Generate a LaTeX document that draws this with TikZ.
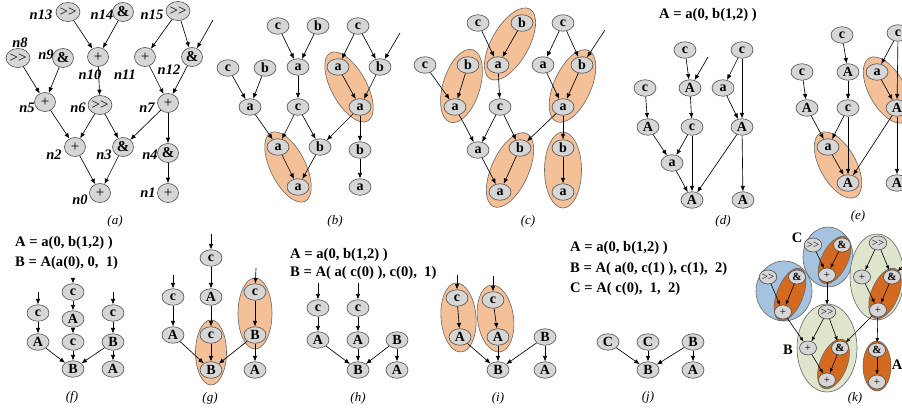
\documentclass[tikz,border=0pt]{standalone}
\usepackage{fontspec}
\setmainfont{Liberation Serif}
\usetikzlibrary{shapes.geometric,arrows.meta,calc}
\pgfdeclarelayer{bg}
\pgfsetlayers{bg,main}
\definecolor{nodegray}{RGB}{214,214,214}
\definecolor{peach}{RGB}{243,192,152}
\definecolor{rust}{RGB}{212,106,32}
\definecolor{skyblue}{RGB}{165,195,222}
\definecolor{sage}{RGB}{223,228,204}
% tilted ellipse enclosing two nodes: style, node 1, node 2, extra length, minor diameter
\newcommand\blob[5]{%
  \path let \p1=(#2), \p2=(#3),
    \n1={atan2(\y2-\y1,\x2-\x1)},
    \n2={veclen(\x2-\x1,\y2-\y1)+#4} in
    node[#1, ellipse, inner sep=0pt, minimum width=\n2, minimum height=#5, rotate=\n1]
      at ($(#2)!0.5!(#3)$) {};}
\tikzset{
  nd/.style={ellipse, draw=black!70, fill=nodegray, line width=0.6pt, inner sep=0pt,
     minimum width=22pt, minimum height=16.5pt, font=\fontsize{14}{14}\selectfont\bfseries},
  opn/.style={nd, minimum width=21pt, minimum height=19pt, font=\fontsize{15}{15}\selectfont},
  opb/.style={opn, font=\fontsize{15}{15}\selectfont\bfseries},
  sm/.style={nd, minimum width=17pt, minimum height=14pt, inner sep=0pt, font=\fontsize{11}{11}\selectfont},
  smb/.style={sm, font=\fontsize{11}{11}\selectfont\bfseries},
  ar/.style={-{Latex[length=5.5pt,width=4.5pt]}, line width=0.65pt},
  sar/.style={-{Latex[length=4.5pt,width=3.6pt]}, line width=0.6pt},
  tag/.style={font=\fontsize{14.5}{14.5}\selectfont\bfseries\itshape, inner sep=0pt},
  captxt/.style={font=\fontsize{13}{13}\selectfont\itshape, inner sep=0pt},
  eq/.style={font=\fontsize{14.6}{14.6}\selectfont\bfseries, anchor=west, inner sep=0pt},
  grp/.style={font=\fontsize{14.5}{14.5}\selectfont\bfseries, inner sep=0pt},
  pch/.style={draw=black!60, fill=peach, line width=0.6pt},
  rst/.style={draw=black!60, fill=rust, line width=0.6pt},
  blu/.style={draw=black!60, fill=skyblue, line width=0.6pt},
  sge/.style={draw=black!60, fill=sage, line width=0.6pt},
}
\begin{document}
\begin{tikzpicture}[x=1pt,y=-1pt]
\useasboundingbox (0,0) rectangle (902,411);

% ---------------- (a) operator graph ----------------
\node[opn] (a13) at (68,12)  {{>}{>}};
\node[opb] (a14) at (123,12) {\&};
\node[opn] (a15) at (178,11) {{>}{>}};
\coordinate (afree) at (213,20);
\node[opn] (a8)  at (18,58)  {{>}{>}};
\node[opb] (a9)  at (63,58)  {\&};
\node[opn] (a10) at (98,57)  {+};
\node[opn] (a11) at (145,57) {+};
\node[opb] (a12) at (192,57) {\&};
\node[opn] (a5)  at (45,102) {+};
\node[opn] (a6)  at (100,105) {{>}{>}};
\node[opn] (a7)  at (168,103) {+};
\node[opn] (a2)  at (75,147) {+};
\node[opb] (a3)  at (123,147) {\&};
\node[opb] (a4)  at (168,153) {\&};
\node[opn] (a0)  at (100,193) {+};
\node[opn] (a1)  at (168,193) {+};
\node[tag] (t13) at (41,15)  {n13};
\node[tag] (t14) at (102,15) {n14};
\node[tag] (t15) at (152,15) {n15};
\node[tag] (t8)  at (20,43)  {n8};
\node[tag] (t9)  at (46,55)  {n9};
\node[tag] (t10) at (90,75)  {n10};
\node[tag] (t11) at (125,75) {n11};
\node[tag] (t12) at (169,70) {n12};
\node[tag] (t5)  at (27,108) {n5};
\node[tag] (t6)  at (78,108) {n6};
\node[tag] (t7)  at (147,108) {n7};
\node[tag] (t2)  at (54,155) {n2};
\node[tag] (t3)  at (104,155) {n3};
\node[tag] (t4)  at (150,155) {n4};
\node[tag] (t0)  at (80,200) {n0};
\node[tag] (t1)  at (148,193) {n1};
\foreach \s/\t in {a13/a10,a14/a10,a15/a11,a15/a12,afree/a12,a8/a5,a9/a5,a10/a6,a11/a7,
  a12/a7,a5/a2,a6/a2,a6/a3,a7/a3,a7/a4,a2/a0,a3/a0,a4/a1}
  \draw[ar] (\s) -- (\t);
\node[captxt] (capa) at (115,221) {(a)};

% ---------------- (b) ----------------
\node[nd] (bc1) at (278,26) {c};
\node[nd] (bb1) at (318,26) {b};
\node[nd] (bc2) at (358,26) {c};
\coordinate (bfree) at (400,33);
\node[nd] (bc3) at (228,68) {c};
\node[nd] (bb3) at (265,68) {b};
\node[nd] (bat) at (298,67) {a};
\node[nd] (bar) at (338,67) {a};
\node[nd] (bbr) at (380,67) {b};
\node[nd] (ba1) at (250,107) {a};
\node[nd] (bc)  at (298,107) {c};
\node[nd] (ba2) at (360,107) {a};
\node[nd] (ba3) at (278,147) {a};
\node[nd] (bb4) at (320,147) {b};
\node[nd] (bb5) at (360,150) {b};
\node[nd] (ba4) at (298,187) {a};
\node[nd] (ba5) at (360,187) {a};
\foreach \s/\t in {bc1/bat,bb1/bat,bc2/bar,bc2/bbr,bfree/bbr,bc3/ba1,bb3/ba1,bat/bc,bar/ba2,
  bbr/ba2,ba1/ba3,bc/ba3,bc/bb4,ba2/bb4,ba2/bb5,ba3/ba4,bb4/ba4,bb5/ba5}
  \draw[ar] (\s) -- (\t);
\begin{pgfonlayer}{bg}
\blob{pch}{bar}{ba2}{32}{35}
\blob{pch}{ba3}{ba4}{32}{35}
\end{pgfonlayer}
\node[captxt] (capb) at (335,221) {(b)};

% ---------------- (c) ----------------
\node[nd] (cc1) at (478,23) {c};
\node[nd] (cb1) at (522,23) {b};
\node[nd] (cc2) at (563,23) {c};
\coordinate (cfree) at (605,30);
\node[nd] (cc3) at (425,65) {c};
\node[nd] (cb3) at (468,65) {b};
\node[nd] (cat) at (498,65) {a};
\node[nd] (car) at (543,65) {a};
\node[nd] (cbr) at (582,65) {b};
\node[nd] (ca1) at (455,107) {a};
\node[nd] (cc)  at (500,107) {c};
\node[nd] (ca2) at (563,107) {a};
\node[nd] (ca3) at (478,150) {a};
\node[nd] (cb4) at (520,148) {b};
\node[nd] (cb5) at (563,148) {b};
\node[nd] (ca4) at (500,192) {a};
\node[nd] (ca5) at (563,192) {a};
\foreach \s/\t in {cc1/cat,cb1/cat,cc2/car,cc2/cbr,cfree/cbr,cc3/ca1,cb3/ca1,cat/cc,car/ca2,
  cbr/ca2,ca1/ca3,cc/ca3,cc/cb4,ca2/cb4,ca2/cb5,ca3/ca4,cb4/ca4,cb5/ca5}
  \draw[ar] (\s) -- (\t);
\begin{pgfonlayer}{bg}
\blob{pch}{cb3}{ca1}{32}{37}
\blob{pch}{cb1}{cat}{32}{37}
\blob{pch}{cbr}{ca2}{32}{37}
\blob{pch}{cb4}{ca4}{32}{37}
\blob{pch}{cb5}{ca5}{32}{37}
\end{pgfonlayer}
\node[captxt] (capc) at (528,221) {(c)};

% ---------------- (d) ----------------
\node[eq] (eqd) at (659,15) {A = a(0, b(1,2) )};
\node[nd] (dc1) at (685,50) {c};
\node[nd] (dc2) at (742,50) {c};
\coordinate (dfree) at (708,57);
\node[nd] (dc3) at (645,88) {c};
\node[nd] (dA1) at (690,88) {A};
\node[nd] (da1) at (723,88) {a};
\node[nd] (dA2) at (648,127) {A};
\node[nd] (dc4) at (692,127) {c};
\node[nd] (dA3) at (742,127) {A};
\node[nd] (da2) at (672,163) {a};
\node[nd] (dA4) at (692,200) {A};
\node[nd] (dA5) at (743,200) {A};
\foreach \s/\t in {dc1/dA1,dfree/dA1,dc2/da1,dc2/dA3,dc3/dA2,dA1/dc4,da1/dA3,dA2/da2,
  dc4/da2,dc4/dA4,da2/dA4,dA3/dA4,dA3/dA5}
  \draw[ar] (\s) -- (\t);
\node[captxt] (capd) at (723,221) {(d)};

% ---------------- (e) ----------------
\node[nd] (ec1) at (842,35) {c};
\node[nd] (ec2) at (898,33) {c};
\node[nd] (ec3) at (802,72) {c};
\node[nd] (eA1) at (848,72) {A};
\node[nd] (ea1) at (877,72) {a};
\node[nd] (eA2) at (807,108) {A};
\node[nd] (ec4) at (848,108) {c};
\node[nd] (eA3) at (897,108) {A};
\node[nd] (ea2) at (828,147) {a};
\node[nd] (eA4) at (848,183) {A};
\node[nd] (eA5) at (897,183) {A};
\foreach \s/\t in {ec1/eA1,eA1/ec4,ec3/eA2,ec2/ea1,ec2/eA3,ea1/eA3,eA2/ea2,ec4/ea2,
  ec4/eA4,ea2/eA4,eA3/eA4,eA3/eA5}
  \draw[ar] (\s) -- (\t);
\begin{pgfonlayer}{bg}
\blob{pch}{ea1}{eA3}{32}{36}
\blob{pch}{ea2}{eA4}{32}{36}
\end{pgfonlayer}
\node[captxt] (cape) at (858,216) {(e)};

% ---------------- (f) ----------------
\node[eq] (eqf1) at (15,243) {A = a(0, b(1,2) )};
\node[eq] (eqf2) at (15,263) {B = A(a(0), 0,~~1)};
\coordinate (ff1) at (73,279);
\coordinate (ff2) at (38,292);
\coordinate (ff3) at (113,292);
\node[nd] (fc1) at (73,292) {c};
\node[nd] (fA1) at (73,319) {A};
\node[nd] (fc2) at (73,342) {c};
\node[nd] (fB1) at (73,369) {B};
\node[nd] (fc3) at (38,313) {c};
\node[nd] (fA2) at (38,342) {A};
\node[nd] (fc4) at (113,313) {c};
\node[nd] (fB2) at (113,342) {B};
\node[nd] (fA3) at (113,369) {A};
\foreach \s/\t in {ff1/fc1,fc1/fA1,fA1/fc2,fc2/fB1,ff2/fc3,fc3/fA2,fA2/fB1,ff3/fc4,
  fc4/fB2,fB2/fB1,fB2/fA3}
  \draw[ar] (\s) -- (\t);
\node[captxt] (capf) at (72,397) {(f)};

% ---------------- (g) ----------------
\coordinate (gf1) at (211,234);
\coordinate (gf2) at (173,275);
\coordinate (gf3) at (256,268);
\node[nd] (gc1) at (211,258) {c};
\node[nd] (gA1) at (211,297) {A};
\node[nd] (gc2) at (211,335) {c};
\node[nd] (gB1) at (211,370) {B};
\node[nd] (gc3) at (173,297) {c};
\node[nd] (gA2) at (173,335) {A};
\node[nd] (gc4) at (255,292) {c};
\node[nd] (gB2) at (255,335) {B};
\node[nd] (gA3) at (255,370) {A};
\foreach \s/\t in {gf1/gc1,gc1/gA1,gA1/gc2,gc2/gB1,gf2/gc3,gc3/gA2,gA2/gB1,gf3/gc4,
  gc4/gB2,gB2/gB1,gB2/gA3}
  \draw[ar] (\s) -- (\t);
\begin{pgfonlayer}{bg}
\blob{pch}{gc2}{gB1}{30}{31}
\blob{pch}{gc4}{gB2}{28}{34}
\end{pgfonlayer}
\node[captxt] (capg) at (210,398) {(g)};

% ---------------- (h) ----------------
\node[eq] (eqh1) at (290,255) {A = a(0, b(1,2) )};
\node[eq] (eqh2) at (290,273) {B = A( a( c(0) ), c(0),~~1)};
\coordinate (hf1) at (318,283);
\coordinate (hf2) at (358,283);
\node[nd] (hc1) at (318,308) {c};
\node[nd] (hA1) at (318,340) {A};
\node[nd] (hc2) at (358,308) {c};
\node[nd] (hA2) at (358,340) {A};
\node[nd] (hB1) at (397,340) {B};
\node[nd] (hB2) at (358,370) {B};
\node[nd] (hA3) at (397,370) {A};
\foreach \s/\t in {hf1/hc1,hc1/hA1,hf2/hc2,hc2/hA2,hA1/hB2,hA2/hB2,hB1/hB2,hB1/hA3}
  \draw[ar] (\s) -- (\t);
\node[captxt] (caph) at (358,398) {(h)};

% ---------------- (i) ----------------
\coordinate (if1) at (457,275);
\coordinate (if2) at (493,276);
\node[nd] (ic1) at (457,298) {c};
\node[nd] (iA1) at (460,337) {A};
\node[nd] (ic2) at (493,300) {c};
\node[nd] (iA2) at (498,337) {A};
\node[nd] (iB1) at (545,337) {B};
\node[nd] (iB2) at (498,370) {B};
\node[nd] (iA3) at (545,370) {A};
\foreach \s/\t in {if1/ic1,ic1/iA1,if2/ic2,ic2/iA2,iA1/iB2,iA2/iB2,iB1/iB2,iB1/iA3}
  \draw[ar] (\s) -- (\t);
\begin{pgfonlayer}{bg}
\blob{pch}{ic1}{iA1}{30}{35}
\blob{pch}{ic2}{iA2}{30}{36}
\end{pgfonlayer}
\node[captxt] (capi) at (498,398) {(i)};

% ---------------- (j) ----------------
\node[eq] (eqj1) at (570,248) {A = a(0, b(1,2) )};
\node[eq] (eqj2) at (570,269) {B = A( a(0, c(1) ), c(1),~~2)};
\node[eq] (eqj3) at (570,289) {C = A( c(0),~~1,~~2)};
\node[nd] (jC1) at (608,342) {C};
\node[nd] (jC2) at (648,342) {C};
\node[nd] (jB1) at (693,342) {B};
\node[nd] (jB2) at (648,370) {B};
\node[nd] (jA)  at (693,370) {A};
\foreach \s/\t in {jC1/jB2,jC2/jB2,jB1/jB2,jB1/jA}
  \draw[ar] (\s) -- (\t);
\node[captxt] (capj) at (648,397) {(j)};

% ---------------- (k) ----------------
\node[sm]  (ks1) at (768,277) {{>}{>}};
\node[smb] (km1) at (797,277) {\&};
\node[sm]  (kp1) at (783,312) {+};
\node[sm]  (ks2) at (813,245) {{>}{>}};
\node[smb] (km2) at (842,245) {\&};
\node[sm]  (kp2) at (827,275) {+};
\node[sm]  (ks3) at (878,243) {{>}{>}};
\node[sm]  (kp3) at (862,277) {+};
\node[smb] (km3) at (892,277) {\&};
\node[sm]  (kp4) at (878,310) {+};
\node[sm]  (ks4) at (827,312) {{>}{>}};
\node[sm]  (kp5) at (808,348) {+};
\node[smb] (km4) at (840,348) {\&};
\node[sm]  (kp6) at (827,380) {+};
\node[smb] (km5) at (877,350) {\&};
\node[sm]  (kp7) at (877,382) {+};
\coordinate (kfree) at (905,264);
\foreach \s/\t in {ks1/kp1,km1/kp1,ks2/kp2,km2/kp2,ks3/kp3,ks3/km3,kfree/km3,kp3/kp4,
  km3/kp4,kp2/ks4,kp1/kp5,ks4/kp5,ks4/km4,kp5/kp6,km4/kp6,kp4/km4,kp4/km5,km5/kp7}
  \draw[sar] (\s) -- (\t);
\begin{pgfonlayer}{bg}
\draw[blu] (784,291) ellipse [x radius=28, y radius=30];
\draw[blu] (828,257) ellipse [x radius=25, y radius=30];
\draw[sge] (877,277) ellipse [x radius=27, y radius=43];
\draw[sge] (827,348) ellipse [x radius=30, y radius=44];
\blob{rst}{km1}{kp1}{18}{26}
\blob{rst}{km2}{kp2}{18}{26}
\blob{rst}{km3}{kp4}{18}{27}
\blob{rst}{km4}{kp6}{18}{27}
\blob{rst}{km5}{kp7}{18}{28}
\end{pgfonlayer}
\node[grp] (gC) at (797,238) {C};
\node[grp] (gB) at (788,350) {B};
\node[grp] (gA) at (897,365) {A};
\node[captxt] (capk) at (855,398) {(k)};
\end{tikzpicture}
\end{document}
